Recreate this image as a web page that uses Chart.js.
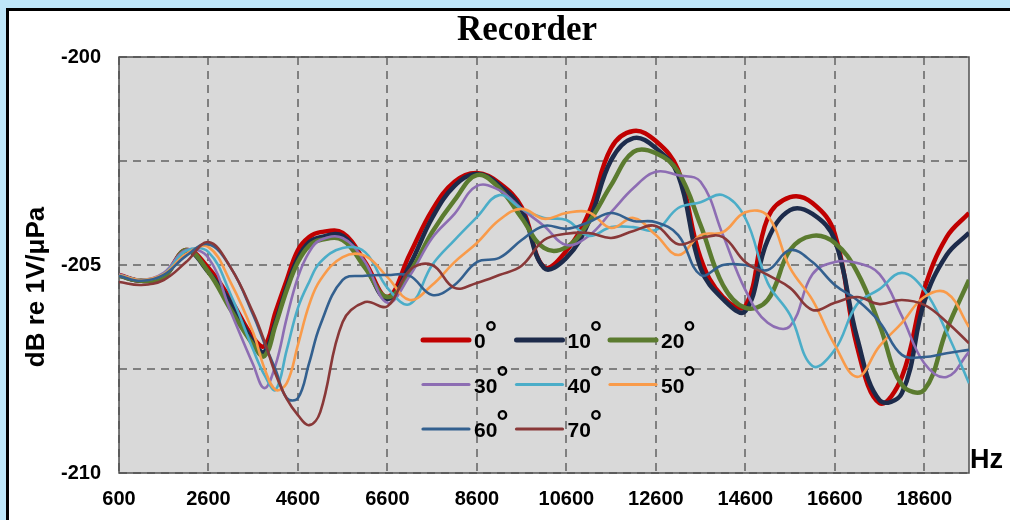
<!DOCTYPE html>
<html>
<head>
<meta charset="utf-8">
<script src="https://cdn.jsdelivr.net/npm/chart.js@4.4.1/dist/chart.umd.min.js"></script>
<style>
  html, body { margin: 0; padding: 0; }
  body { width: 1010px; height: 520px; background: #bee6f9; position: relative; overflow: hidden; }
  #frame { position: absolute; left: 6px; top: 8px; width: 1010px; height: 520px; background: #fff;
           border-left: 3px solid #000; border-top: 3px solid #000; }
  #wrap { position: absolute; left: 0; top: 0; width: 1010px; height: 520px; }
</style>
</head>
<body>
<div id="frame"></div>
<div id="wrap"><canvas id="chart" width="1010" height="520"></canvas></div>
<script>
/* ---- data (Hz / dB re 1V/uPa) ---- */
const freq = [600, 1100, 1600, 2100, 2600, 3100, 3600, 3850, 4100, 4350, 4600, 4850, 5100, 5600, 6100,
              6600, 7100, 7600, 8100, 8600, 9100, 9600, 10100, 10600, 11100, 11600, 12100, 12600, 13100,
              13600, 14100, 14600, 15100, 15600, 16100, 16600, 17100, 17600, 18100, 18600, 19100, 19600];

const deg0  = [-205.24, -205.38, -205.26, -204.64, -205.07, -205.84, -206.75, -206.95, -206.13, -205.36, -204.64,
               -204.33, -204.21, -204.23, -204.93, -205.77, -204.74, -203.68, -203.00, -202.79, -203.03, -203.61,
               -205.05, -204.66, -203.75, -202.19, -201.78, -202.02, -202.72, -204.83, -205.77, -205.99, -203.87,
               -203.37, -203.51, -204.25, -206.97, -208.32, -207.69, -205.58, -204.33, -203.75];
const deg10 = [-205.26, -205.38, -205.29, -204.66, -205.17, -205.91, -206.85, -207.09, -206.37, -205.53, -204.83,
               -204.45, -204.33, -204.30, -205.02, -205.82, -205.00, -203.87, -203.10, -202.81, -203.08, -203.68,
               -205.07, -204.83, -203.97, -202.48, -201.95, -202.19, -202.84, -205.07, -205.82, -206.11, -204.40,
               -203.68, -203.77, -204.40, -206.75, -208.25, -208.08, -205.89, -204.76, -204.23];
const deg20 = [-205.26, -205.38, -205.29, -204.64, -205.17, -206.08, -206.92, -207.19, -206.44, -205.60, -204.93,
               -204.54, -204.40, -204.40, -205.07, -205.77, -205.17, -204.21, -203.44, -202.84, -203.15, -203.87,
               -204.59, -204.57, -203.97, -203.08, -202.28, -202.31, -202.76, -204.04, -205.48, -206.03, -205.84,
               -204.64, -204.30, -204.47, -205.17, -206.44, -207.88, -208.00, -206.56, -205.36];
const deg30 = [-205.22, -205.36, -205.19, -204.64, -204.83, -206.13, -207.40, -207.96, -207.40, -206.27, -205.29,
               -204.69, -204.40, -204.35, -204.93, -205.91, -205.26, -204.35, -203.77, -203.10, -203.20, -203.65,
               -204.06, -204.52, -204.30, -203.73, -203.15, -202.76, -202.84, -203.00, -204.28, -205.60, -206.39,
               -206.47, -205.22, -204.93, -204.95, -205.22, -206.23, -207.36, -207.69, -207.09];
const deg40 = [-205.24, -205.36, -205.22, -204.66, -204.69, -205.72, -207.04, -207.64, -208.00, -207.04, -206.03,
               -205.41, -204.93, -204.59, -204.69, -205.55, -205.94, -205.00, -204.40, -203.85, -203.32, -203.65,
               -203.87, -203.92, -204.30, -204.09, -204.09, -204.16, -203.63, -203.49, -203.32, -203.87, -205.43,
               -206.20, -207.43, -207.04, -205.94, -205.58, -205.19, -205.60, -206.61, -207.84];
const deg50 = [-205.24, -205.36, -205.22, -204.74, -204.57, -205.43, -206.63, -207.48, -208.00, -207.84, -206.92,
               -205.96, -205.36, -204.81, -204.78, -205.29, -205.84, -205.48, -204.93, -204.47, -203.92, -203.65,
               -203.89, -203.75, -203.73, -204.11, -203.87, -204.28, -204.76, -204.28, -204.21, -203.73, -203.82,
               -205.07, -205.84, -206.92, -207.69, -206.95, -206.39, -205.77, -205.67, -206.49];
const deg60 = [-205.26, -205.38, -205.24, -204.78, -204.50, -205.07, -206.20, -206.88, -207.52, -208.20, -208.20,
               -207.36, -206.44, -205.36, -205.26, -205.24, -205.26, -205.72, -205.48, -204.93, -204.83, -204.40,
               -204.06, -204.13, -203.97, -203.75, -203.94, -203.97, -204.28, -205.24, -205.00, -205.00, -205.12,
               -204.64, -204.93, -205.48, -205.84, -206.37, -207.16, -207.21, -207.12, -207.04];
const deg70 = [-205.41, -205.48, -205.36, -204.93, -204.45, -205.07, -206.15, -206.83, -207.62, -208.22, -208.61,
               -208.85, -208.53, -206.37, -205.89, -205.99, -205.12, -205.00, -205.55, -205.43, -205.24, -205.02,
               -204.40, -204.25, -204.23, -204.35, -204.18, -204.06, -204.50, -204.35, -204.33, -204.93, -205.24,
               -205.55, -206.08, -205.91, -205.77, -205.94, -205.84, -205.96, -206.37, -206.88];

const angles  = [0, 10, 20, 30, 40, 50, 60, 70];
const xTicks  = [600, 2600, 4600, 6600, 8600, 10600, 12600, 14600, 16600, 18600];
const yGrid   = [-210, -207.5, -205, -202.5, -200];
const yLabels = [-210, -205, -200];

/* ---- style ---- */
const series = [deg0, deg10, deg20, deg30, deg40, deg50, deg60, deg70];
const colors = ['#C00000', '#1D2B4B', '#5B7B2F', '#8D6DB3', '#4BADC8', '#F99B4A', '#33608F', '#893838'];
const widths = [4.5, 4.5, 4.5, 2.6, 2.6, 2.6, 2.6, 2.6];
const SANS = "'Liberation Sans', Arial, sans-serif";

Chart.defaults.font.family = SANS;
Chart.defaults.color = '#000';

/* plot background, frame, title, axis names and the inside legend */
const extras = {
    id: 'extras',
    beforeDraw(chart) {
        const { ctx, chartArea: a } = chart;
        ctx.save();
        ctx.fillStyle = '#d9d9d9';
        ctx.fillRect(a.left, a.top, a.right - a.left, a.bottom - a.top);
        ctx.restore();
    },
    beforeDatasetsDraw(chart) {
        const { ctx, chartArea: a } = chart;
        ctx.save();
        ctx.strokeStyle = '#505050';
        ctx.lineWidth = 1.5;
        ctx.strokeRect(a.left, a.top, a.right - a.left, a.bottom - a.top);
        ctx.restore();
    },
    afterDraw(chart) {
        const { ctx, chartArea: a } = chart;
        ctx.save();
        ctx.fillStyle = '#000';

        // title
        ctx.font = "bold 35px 'Liberation Serif', 'Times New Roman', serif";
        ctx.textAlign = 'center';
        ctx.textBaseline = 'alphabetic';
        ctx.fillText('Recorder', 527, 40);

        // unit at the end of the x axis
        ctx.font = 'bold 27px ' + SANS;
        ctx.textAlign = 'left';
        ctx.fillText('Hz', a.right + 1, a.bottom - 5);

        // y axis name
        ctx.save();
        ctx.translate(37, 287);
        ctx.rotate(-Math.PI / 2);
        ctx.font = 'bold 26px ' + SANS;
        ctx.textAlign = 'center';
        ctx.textBaseline = 'middle';
        ctx.fillText('dB re 1V/μPa', 0, 0);
        ctx.restore();

        // legend, 3 per row
        chart.data.datasets.forEach((ds, i) => {
            const col = i % 3, row = Math.floor(i / 3);
            const x0 = 423 + col * 93.5;
            const y0 = 340 + row * 44.5;
            ctx.strokeStyle = ds.borderColor;
            ctx.lineWidth = i < 3 ? 5 : 3.2;
            ctx.lineCap = 'round';
            ctx.beginPath();
            ctx.moveTo(x0, y0);
            ctx.lineTo(x0 + 46, y0);
            ctx.stroke();
            ctx.font = 'bold 21px ' + SANS;
            ctx.textAlign = 'left';
            ctx.textBaseline = 'alphabetic';
            const num = String(angles[i]);
            ctx.fillText(num, x0 + 51, y0 + 8);
            const w = ctx.measureText(num).width;
            ctx.font = 'bold 31px ' + SANS;
            ctx.fillText('°', x0 + 50 + w, y0 + 3);
        });
        ctx.restore();
    }
};

new Chart(document.getElementById('chart'), {
    type: 'line',
    data: {
        datasets: series.map((s, i) => ({
            label: angles[i] + '°',
            data: freq.map((f, j) => ({ x: f, y: s[j] })),
            borderColor: colors[i],
            backgroundColor: colors[i],
            borderWidth: widths[i],
            pointRadius: 0,
            tension: 0.4,
            fill: false,
            order: series.length - i,
        }))
    },
    options: {
        responsive: false,
        animation: false,
        layout: { padding: { left: 0, top: 57, right: 41, bottom: 0 } },
        plugins: {
            legend: { display: false },
            tooltip: { enabled: false },
            title: { display: false },
        },
        scales: {
            x: {
                type: 'linear',
                min: 600, max: 19600,
                afterBuildTicks: s => { s.ticks = xTicks.map(v => ({ value: v })); },
                afterFit: s => { s.height = 47; },
                grid: { color: '#808080', lineWidth: 2, drawTicks: false },
                border: { display: false, dash: [8, 6] },
                ticks: {
                    padding: 14, maxRotation: 0, autoSkip: false,
                    font: { size: 20, weight: 'bold' }, color: '#000',
                    callback: v => String(v),
                },
            },
            y: {
                type: 'linear',
                min: -210, max: -200,
                afterBuildTicks: s => { s.ticks = yGrid.map(v => ({ value: v })); },
                afterFit: s => { s.width = 119; },
                grid: { color: '#808080', lineWidth: 2, drawTicks: false },
                border: { display: false, dash: [8, 6] },
                ticks: {
                    padding: 18, autoSkip: false,
                    font: { size: 20, weight: 'bold' }, color: '#000',
                    callback: v => yLabels.includes(v) ? String(v) : '',
                },
            },
        },
    },
    plugins: [extras],
});
</script>
</body>
</html>
